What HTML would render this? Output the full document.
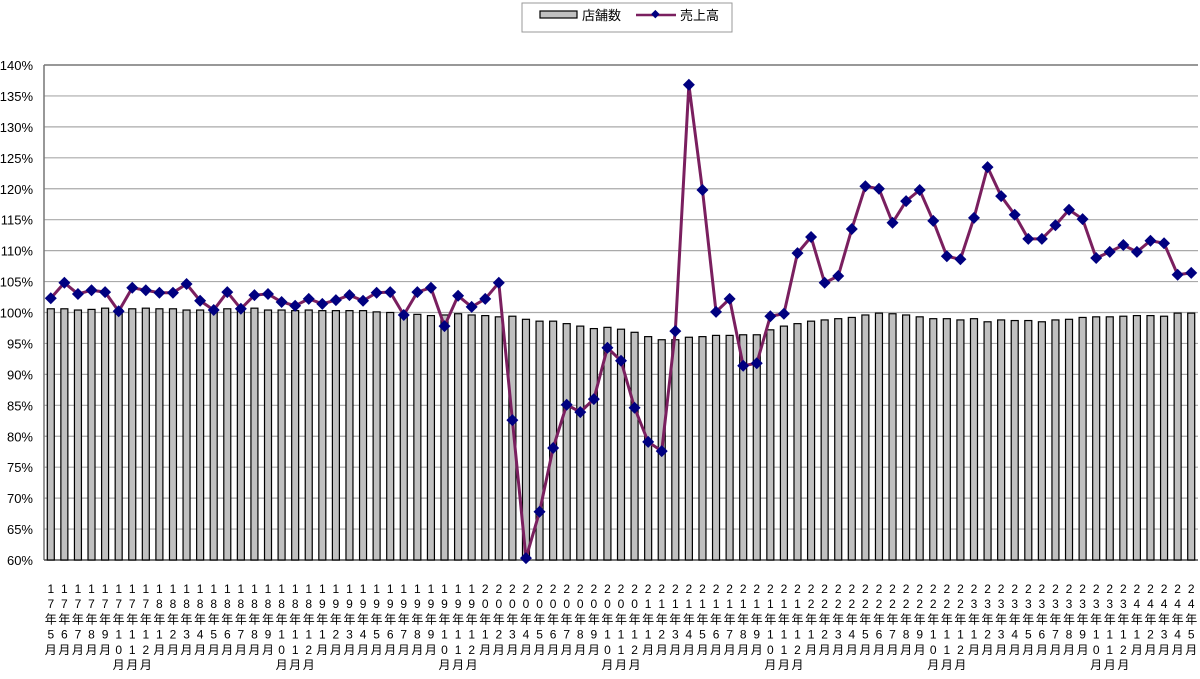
<!DOCTYPE html>
<html><head><meta charset="utf-8"><style>
body{margin:0;background:#fff;}
svg text{font-family:"Liberation Sans","Noto Sans CJK JP",sans-serif;fill:#000;}
</style></head><body>
<svg id="chart" width="1200" height="674" xmlns="http://www.w3.org/2000/svg">
<g id="legend">
<rect x="522" y="3" width="210" height="29" fill="#fff" stroke="#999"/>
<rect x="540" y="11" width="37" height="7" fill="#c0c0c0" stroke="#000" stroke-width="1.2"/>
<text x="582" y="20" font-size="13">店舗数</text>
<line x1="636" y1="15" x2="676" y2="15" stroke="#7a1f5f" stroke-width="2.5"/>
<rect x="652" y="11" width="6" height="6" fill="#000080" transform="rotate(45 655 14.5)"/>
<text x="680" y="20" font-size="13">売上高</text>
</g>
<g id="grid"></g><g id="bars"></g><g id="line"></g><g id="xlabels"></g><g id="ylabels"></g>
</svg>
<script>
const sales=[102.3,104.8,103.0,103.6,103.3,100.2,104.0,103.6,103.2,103.2,104.6,101.9,100.4,103.3,100.6,102.8,103.0,101.7,101.1,102.2,101.4,102.0,102.8,101.9,103.2,103.3,99.6,103.3,104.0,97.8,102.7,100.9,102.2,104.8,82.6,60.3,67.8,78.1,85.1,83.9,86.0,94.3,92.2,84.6,79.1,77.6,97.0,136.8,119.8,100.1,102.2,91.4,91.8,99.4,99.8,109.6,112.2,104.8,105.9,113.5,120.4,120.0,114.5,118.0,119.8,114.8,109.1,108.6,115.3,123.5,118.8,115.8,111.9,111.9,114.1,116.6,115.1,108.8,109.8,110.9,109.8,111.6,111.2,106.1,106.4];
const stores=[100.6,100.6,100.4,100.5,100.7,100.5,100.6,100.7,100.6,100.6,100.4,100.4,100.4,100.6,100.5,100.7,100.4,100.4,100.3,100.4,100.3,100.3,100.3,100.3,100.1,100.0,99.8,99.7,99.5,99.6,99.8,99.6,99.5,99.3,99.4,98.9,98.6,98.6,98.2,97.8,97.4,97.6,97.3,96.8,96.1,95.6,95.6,96.0,96.1,96.3,96.3,96.4,96.4,97.2,97.8,98.2,98.6,98.8,99.0,99.2,99.6,99.9,99.8,99.6,99.3,99.0,99.0,98.8,99.0,98.5,98.8,98.7,98.7,98.5,98.8,98.9,99.2,99.3,99.3,99.4,99.5,99.5,99.4,99.9,99.9];
const yTicks=[60,65,70,75,80,85,90,95,100,105,110,115,120,125,130,135,140];
const startYear=17,startMonth=5;
const NS="http://www.w3.org/2000/svg";
const L=44,R=1198,T=65,B=560,N=sales.length;
const step=(R-L)/N;
const xs=i=>L+step*(i+0.5);
const ys=v=>B-(v-60)/80*(B-T);
function mk(tag,attrs,parent){const e=document.createElementNS(NS,tag);for(const k in attrs)e.setAttribute(k,attrs[k]);parent.appendChild(e);return e;}
const grid=document.getElementById('grid');
yTicks.forEach(t=>{
 const g=mk('line',{x1:L,x2:R,y1:ys(t),y2:ys(t),stroke:t===140?'#777':'#aaa','stroke-width':t===140?1.5:1.2},grid);
 
 
 const tx=mk('text',{x:33,y:ys(t)+5,'font-size':13,'text-anchor':'end'},document.getElementById('ylabels'));
 tx.textContent=t+'%';
 
 
});
const ax=mk('line',{x1:L,x2:L,y1:T,y2:B,stroke:'#777','stroke-width':1.5},grid);


const bx=mk('line',{x1:L,x2:R,y1:B,y2:B,stroke:'#555','stroke-width':1.5},grid);


const bars=document.getElementById('bars');
stores.forEach((v,i)=>{
 const r=mk('rect',{x:xs(i)-3.5,y:ys(v),width:7,height:B-ys(v),fill:'#c0c0c0',stroke:'#000','stroke-width':1.2},bars);
 
 
});
const lg=document.getElementById('line');
const p=mk('polyline',{points:sales.map((v,i)=>xs(i)+','+ys(v)).join(' '),fill:'none',stroke:'#7a1f5f','stroke-width':3},lg);


sales.forEach((v,i)=>{
 const x=xs(i),y=ys(v);
 const m=mk('polygon',{points:`${x},${y-6} ${x+6},${y} ${x},${y+6} ${x-6},${y}`,fill:'#000080'},lg);
 
 
});
const xl=document.getElementById('xlabels');
for(let i=0;i<N;i++){
 const mo=(startMonth-1+i)%12+1, yr=startYear+Math.floor((startMonth-1+i)/12);
 const chars=(String(yr)+'年'+String(mo)+'月').split('');
 const t=mk('text',{'font-size':12,'text-anchor':'middle'},xl);
 
 
 chars.forEach((c,k)=>{const s=mk('tspan',{x:xs(i),y:593+k*15.2},t);s.textContent=c;});
}
</script>
</body></html>
